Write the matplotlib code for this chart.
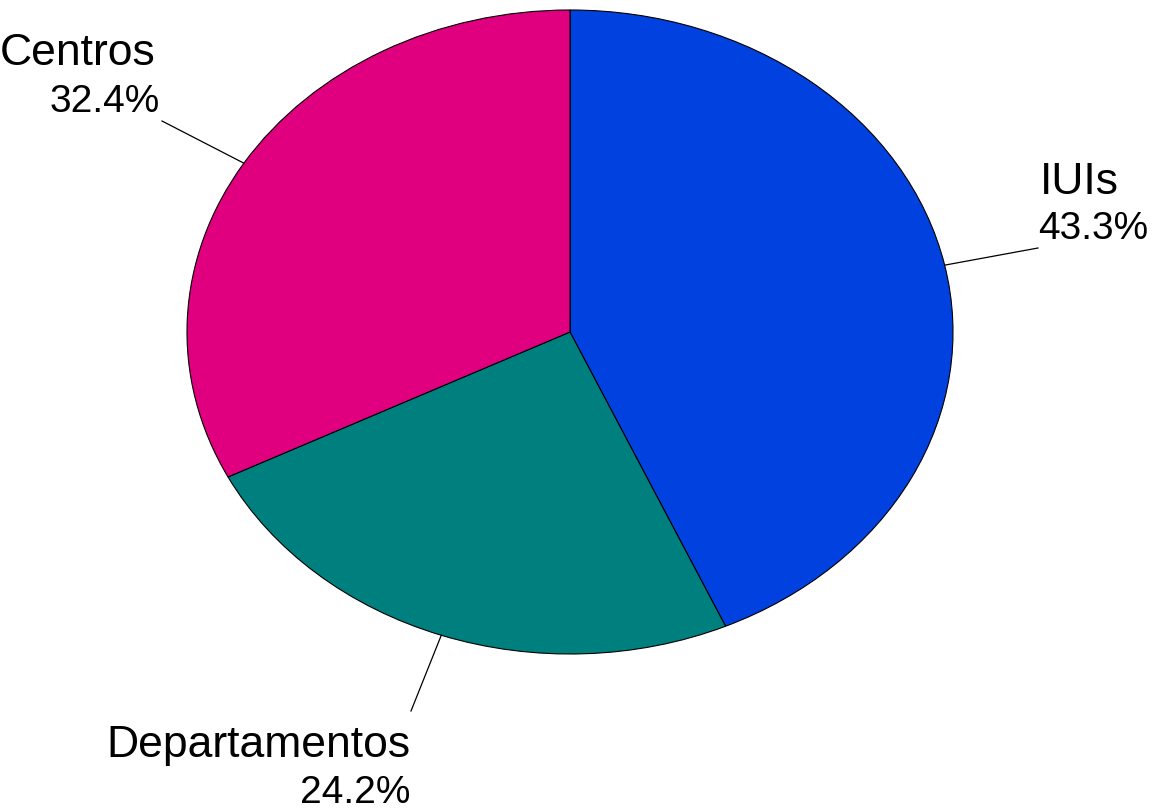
import numpy as np
import matplotlib.pyplot as plt

plt.rcParams['font.family'] = ['Liberation Sans', 'DejaVu Sans']

# data
labels = ['IUIs', 'Departamentos', 'Centros']
values = [43.3, 24.2, 32.4]
colors = ['#0041E0', '#007F7F', '#E0007F']

W, H = 1165, 811
cx, cy, rx, ry = 570, 332, 383, 322   # ellipse in pixels

def to_data(px, py):
    return (px - cx) / rx, (cy - py) / ry

fig = plt.figure(figsize=(W / 100, H / 100), dpi=100)
ax = fig.add_axes([(cx - rx) / W, (H - cy - ry) / H, 2 * rx / W, 2 * ry / H])

wedges, _ = ax.pie(values, colors=colors, startangle=90, counterclock=False,
                   wedgeprops=dict(edgecolor='black', linewidth=0.8))
ax.set_aspect('auto')
ax.set_xlim(-1, 1)
ax.set_ylim(-1, 1)
ax.axis('off')
for w in wedges:
    w.set_clip_on(False)

# label layout: (leader end px, name pos px, pct pos px, ha)
layout = {
    'IUIs': ((1038, 248), (1040, 194), (1038, 239), 'left'),
    'Departamentos': ((411, 711), (410, 757), (410, 803), 'right'),
    'Centros': ((162, 121), (156, 65), (160, 112), 'right'),
}

total = sum(values)
ang = 90.0
for lab, v in zip(labels, values):
    span = v / total * 360
    mid = np.deg2rad(ang - span / 2)
    ang -= span
    end, npos, ppos, ha = layout[lab]
    ex, ey = to_data(*end)
    ax.plot([np.cos(mid), ex], [np.sin(mid), ey], color='black', lw=0.9, clip_on=False)
    ax.text(*to_data(*npos), lab, ha=ha, va='baseline', fontsize=32, clip_on=False)
    ax.text(*to_data(*ppos), f'{v:.1f}%', ha=ha, va='baseline', fontsize=28, clip_on=False)

fig.savefig('out.png', dpi=100)
